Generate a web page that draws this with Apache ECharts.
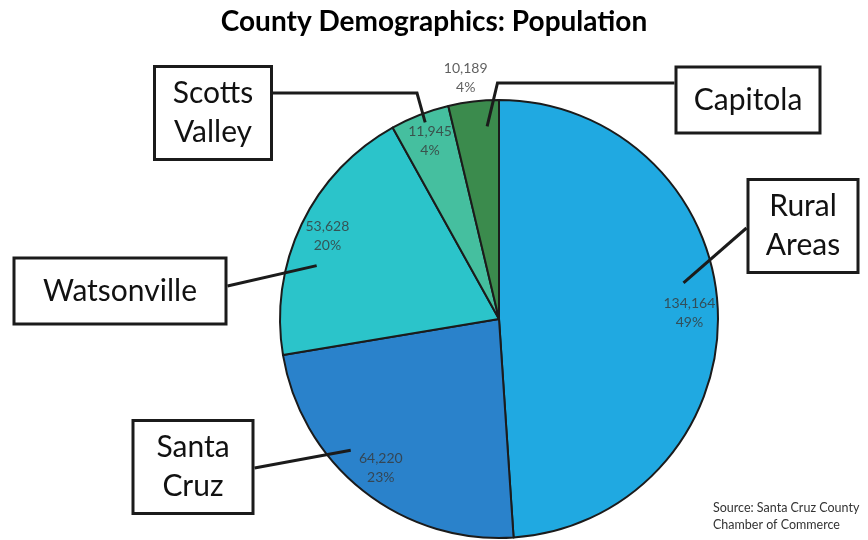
<!DOCTYPE html>
<html>
<head>
<meta charset="utf-8">
<script src="https://cdn.jsdelivr.net/npm/echarts@6/dist/echarts.min.js"></script>
<style>
  html, body { margin: 0; padding: 0; background: #fff; }
  #chart { width: 868px; height: 540px; }
</style>
</head>
<body>
<div id="chart"></div>
<script>
// Population by area, Santa Cruz County
const categories = ['Rural Areas', 'Santa Cruz', 'Watsonville', 'Scotts Valley', 'Capitola'];
const population = [134164, 64220, 53628, 11945, 10189];
const calloutText = ['Rural\nAreas', 'Santa\nCruz', 'Watsonville', 'Scotts\nValley', 'Capitola'];
const sliceColors = ['#20a9e1', '#2a82cb', '#2bc4ca', '#45bf9f', '#3b8b4d'];

// Callout box placement: box centre, box width, horizontal leg length,
// vertical offset where the leader leaves the box, and how far from the
// pie centre the leader ends inside the slice
const calloutLayout = {
  'Rural Areas':   { x: 803, y: 226, w: 113, leg: 0,   exit: 2,   reach: 188 },
  'Santa Cruz':    { x: 193, y: 467, w: 123, leg: 0,   exit: 1,   reach: 198 },
  'Watsonville':   { x: 120, y: 291, w: 215, leg: 0,   exit: -5,  reach: 190 },
  'Scotts Valley': { x: 213, y: 113, w: 120, leg: 144, exit: -20, reach: 210 },
  'Capitola':      { x: 748, y: 100, w: 147, leg: 177, exit: -17, reach: 193 }
};

const CENTER = [499, 319];
const R = 219;
const FONT = 'Lato, "Open Sans", sans-serif';

const fmt = n => n.toLocaleString('en-US');

const baseData = categories.map((name, i) => ({ name, value: population[i] }));

const fillData = baseData.map((d, i) => ({ ...d, itemStyle: { color: sliceColors[i] } }));

const valueLabelData = baseData.map(d => {
  if (d.name === 'Capitola') {
    return { ...d, label: { position: 'outside' }, labelLine: { show: false, length: 24, length2: 0 } };
  }
  return { ...d };
});

const calloutData = baseData.map((d, i) => {
  const lay = calloutLayout[d.name];
  const lines = calloutText[i].split('\n').length;
  return {
    ...d,
    label: {
      formatter: calloutText[i],
      width: lay.w - 6,
      padding: lines > 1 ? [6, 0, 6, 0] : [12, 0, 12, 0]
    }
  };
});

// Leader line: box edge -> optional horizontal leg -> point inside the slice.
// The inner point sits between the slice's mid-angle (from the pie layout)
// and the direction of the leg end.
function calloutLeader(p) {
  const lay = calloutLayout[categories[p.dataIndex]];
  const rect = p.labelRect;
  const halfW = rect.width / 2;
  const side = lay.x < CENTER[0] ? 1 : -1;
  const ex = lay.x + side * halfW;
  const ey = lay.y + lay.exit;
  const bx = ex + side * lay.leg;
  const by = ey;
  const mid = p.labelLinePoints ? p.labelLinePoints[0] : [bx, by];
  const aMid = Math.atan2(mid[1] - CENTER[1], mid[0] - CENTER[0]);
  const aLeg = Math.atan2(by - CENTER[1], bx - CENTER[0]);
  let diff = aLeg - aMid;
  while (diff > Math.PI) diff -= 2 * Math.PI;
  while (diff < -Math.PI) diff += 2 * Math.PI;
  const a = aMid + diff / 2;
  const ax = CENTER[0] + lay.reach * Math.cos(a);
  const ay = CENTER[1] + lay.reach * Math.sin(a);
  const pts = [[ax, ay]];
  if (lay.leg > 0) pts.push([bx, by]);
  pts.push([ex, ey]);
  return pts;
}

const chart = echarts.init(document.getElementById('chart'), null, { renderer: 'canvas' });

chart.setOption({
  backgroundColor: '#ffffff',
  animation: false,
  title: {
    text: 'County Demographics: Population',
    left: 'center',
    top: 3,
    textStyle: { fontFamily: FONT, fontWeight: 'bold', fontSize: 28, color: '#000' }
  },
  graphic: [{
    type: 'text',
    left: 713,
    top: 499,
    style: {
      text: 'Source: Santa Cruz County\nChamber of Commerce',
      font: '12.5px ' + FONT,
      lineHeight: 17,
      fill: '#333'
    }
  }],
  series: [
    {
      // coloured slices
      type: 'pie',
      silent: true,
      z: 1,
      center: CENTER,
      radius: R,
      startAngle: 90,
      clockwise: true,
      itemStyle: { borderColor: '#1b1b1b', borderWidth: 2 },
      label: { show: false },
      labelLine: { show: false },
      data: fillData
    },
    {
      // value + percent labels near the rim
      type: 'pie',
      silent: true,
      z: 2,
      center: CENTER,
      radius: [156, R],
      startAngle: 90,
      clockwise: true,
      avoidLabelOverlap: false,
      itemStyle: { color: 'rgba(0,0,0,0)' },
      label: {
        show: true,
        position: 'inside',
        formatter: p => fmt(p.value) + '\n' + Math.round(p.percent) + '%',
        fontFamily: FONT,
        fontSize: 14,
        lineHeight: 19,
        color: 'rgba(55,55,55,0.8)'
      },
      labelLayout: p => (p.dataIndex === 4 ? { align: 'center' } : {}),
      data: valueLabelData
    },
    {
      // boxed callouts with leader lines
      type: 'pie',
      silent: true,
      z: 5,
      center: CENTER,
      radius: [0, 193],
      startAngle: 90,
      clockwise: true,
      avoidLabelOverlap: false,
      itemStyle: { color: 'rgba(0,0,0,0)' },
      label: {
        show: true,
        position: 'outside',
        fontFamily: FONT,
        fontSize: 30,
        lineHeight: 39,
        color: '#111',
        align: 'center',
        backgroundColor: '#fff',
        borderColor: '#1b1b1b',
        borderWidth: 3
      },
      labelLine: {
        show: true,
        showAbove: true,
        length: 10,
        length2: 10,
        lineStyle: { color: '#1b1b1b', width: 3 }
      },
      labelLayout: p => {
        const lay = calloutLayout[categories[p.dataIndex]];
        return {
          x: lay.x, y: lay.y, align: 'center', verticalAlign: 'middle',
          labelLinePoints: calloutLeader(p)
        };
      },
      data: calloutData
    }
  ]
});
</script>
</body>
</html>
